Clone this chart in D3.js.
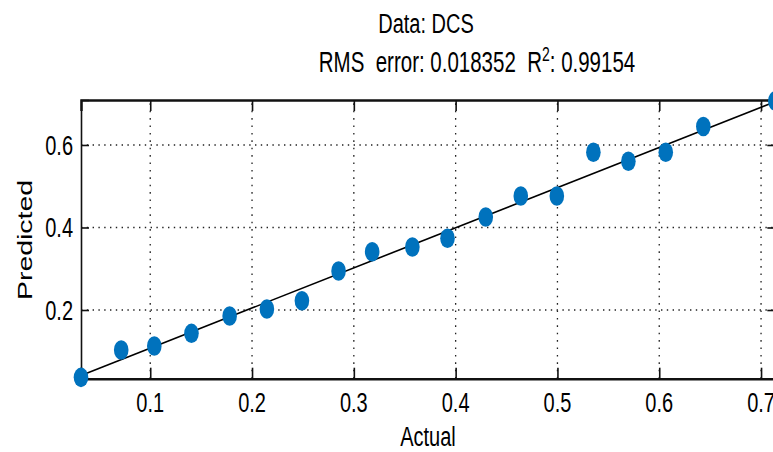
<!DOCTYPE html>
<html>
<head>
<meta charset="utf-8">
<script src="https://cdn.jsdelivr.net/npm/d3@7"></script>
<style>
  html, body { margin: 0; padding: 0; background: #fff; }
  text { font-family: "Liberation Sans", Arial, Helvetica, sans-serif; fill: #000; white-space: pre; }
</style>
</head>
<body>
<div id="chart"></div>
<script>
// values
const actual = [0.032, 0.0715, 0.104, 0.1405, 0.178, 0.2146, 0.249, 0.285, 0.318, 0.3575,
  0.392, 0.4296, 0.464, 0.4994, 0.5353, 0.5697, 0.6064, 0.6433, 0.714]
const predicted = [0.0368, 0.103, 0.1127, 0.1435, 0.1855, 0.2024, 0.2225, 0.2945, 0.3413, 0.3527,
  0.3738, 0.4255, 0.4764, 0.4764, 0.5823, 0.5605, 0.5823, 0.6448, 0.7067]
const xTicks = [0.1, 0.2, 0.3, 0.4, 0.5, 0.6, 0.7]
const yTicks = [0.2, 0.4, 0.6]
const xDomain = [0.032, 0.714]
const yDomain = [0.0335, 0.709]
const fitSlope = 0.973
const fitIntercept = 0.0102
const titleText = "Data: DCS"
const rmsText = "RMS  error: 0.018352  R"
const r2Text = ": 0.99154"

const WIDTH = 773
const HEIGHT = 452
const LEFT = 81, RIGHT = 775.3, TOP = 100, BOTTOM = 378.7
const FONT = 20
const STRETCH = 1.42 // the picture is stretched vertically

const svg = d3.select("#chart")
  .append("svg")
  .attr("width", WIDTH)
  .attr("height", HEIGHT)

const x = d3.scaleLinear().domain(xDomain).range([LEFT, RIGHT])
const y = d3.scaleLinear().domain(yDomain).range([BOTTOM, TOP])

// stretched text helper
const label = (px, py, txt, anchor, rot) => {
  const t = rot
    ? `translate(${px},${py}) rotate(-90) scale(${STRETCH},1)`
    : `translate(${px},${py}) scale(1,${STRETCH})`
  return svg.append("text")
    .attr("transform", t)
    .attr("text-anchor", anchor)
    .style("font-size", FONT + "px")
    .text(txt)
}

// grid
svg.append("g")
  .selectAll("line")
  .data(xTicks)
  .enter()
  .append("line")
  .attr("x1", d => x(d)).attr("x2", d => x(d))
  .attr("y1", BOTTOM).attr("y2", TOP)
  .attr("stroke", "#222")
  .attr("stroke-width", 1.3)
  .attr("stroke-dasharray", "1.6,5.8")

svg.append("g")
  .selectAll("line")
  .data(yTicks)
  .enter()
  .append("line")
  .attr("x1", LEFT).attr("x2", RIGHT)
  .attr("y1", d => y(d)).attr("y2", d => y(d))
  .attr("stroke", "#222")
  .attr("stroke-width", 1.5)
  .attr("stroke-dasharray", "1.4,4.4")

// axes, ticks inside like matlab
const xAxis = svg.append("g")
  .attr("transform", `translate(0,${BOTTOM})`)
  .call(d3.axisBottom(x).tickValues(xTicks).tickSize(-11).tickFormat(""))
const xAxisTop = svg.append("g")
  .attr("transform", `translate(0,${TOP})`)
  .call(d3.axisTop(x).tickValues(xTicks).tickSize(-11).tickFormat(""))
const yAxis = svg.append("g")
  .attr("transform", `translate(${LEFT},0)`)
  .call(d3.axisLeft(y).tickValues(yTicks).tickSize(-8).tickFormat(""))
const yAxisRight = svg.append("g")
  .attr("transform", `translate(${RIGHT},0)`)
  .call(d3.axisRight(y).tickValues(yTicks).tickSize(-8).tickFormat(""))

svg.selectAll(".domain").attr("stroke", "#111").attr("stroke-width", 1.6)
svg.selectAll(".tick line").attr("stroke", "#111").attr("stroke-width", 1.6)
xAxis.select(".domain").attr("stroke-width", 2.4)
xAxisTop.select(".domain").attr("stroke-width", 2.4)

// tick labels
xTicks.forEach(d => label(x(d), 412, d3.format(".1f")(d), "middle"))
yTicks.forEach(d => label(73, y(d) + 10, d3.format(".1f")(d), "end"))

// fit line
const fit = d3.line()
  .x(d => x(d))
  .y(d => y(fitSlope * d + fitIntercept))
svg.append("path")
  .datum(xDomain)
  .attr("d", fit)
  .attr("fill", "none")
  .attr("stroke", "#000")
  .attr("stroke-width", 1.6)

// points
svg.append("g")
  .selectAll("ellipse")
  .data(actual)
  .enter()
  .append("ellipse")
  .attr("cx", (d, i) => x(d))
  .attr("cy", (d, i) => y(predicted[i]))
  .attr("rx", 7.3)
  .attr("ry", 9.8)
  .attr("fill", "#0072BD")

// titles
label(426, 33, titleText, "middle")
const rms = label(477, 72, rmsText, "middle")
  .style("font-size", "20.5px")
rms.append("tspan")
  .attr("dy", -8)
  .style("font-size", "14px")
  .text("2")
rms.append("tspan")
  .attr("dy", 8)
  .text(r2Text)

label(428, 446, "Actual", "middle")
label(32, 240, "Predicted", "middle", true)
</script>
</body>
</html>
